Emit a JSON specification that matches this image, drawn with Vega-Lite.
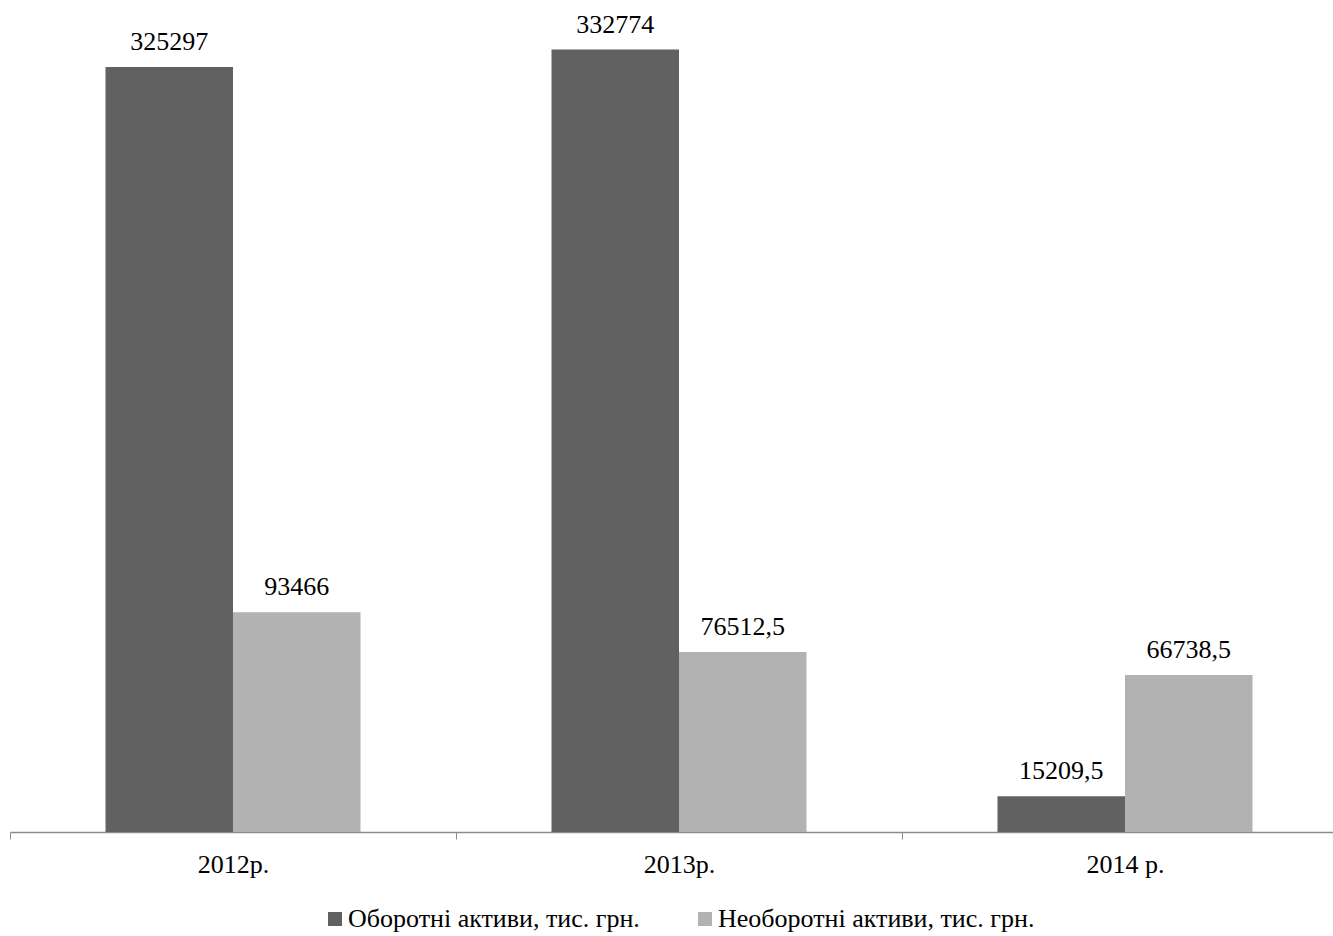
{
  "$schema": "https://vega.github.io/schema/vega-lite/v6.json",
  "width": 1323,
  "height": 823,
  "autosize": {"type": "none"},
  "padding": {"left": 10, "top": 9, "right": 0, "bottom": 104},
  "background": "white",
  "config": {
    "view": {"stroke": null},
    "font": "Times New Roman, Liberation Serif, serif"
  },
  "data": {
    "values": [
      {"year": "2012р.", "series": "Оборотні активи, тис. грн.", "value": 325297, "label": "325297"},
      {"year": "2012р.", "series": "Необоротні активи, тис. грн.", "value": 93466, "label": "93466"},
      {"year": "2013р.", "series": "Оборотні активи, тис. грн.", "value": 332774, "label": "332774"},
      {"year": "2013р.", "series": "Необоротні активи, тис. грн.", "value": 76512.5, "label": "76512,5"},
      {"year": "2014 р.", "series": "Оборотні активи, тис. грн.", "value": 15209.5, "label": "15209,5"},
      {"year": "2014 р.", "series": "Необоротні активи, тис. грн.", "value": 66738.5, "label": "66738,5"}
    ]
  },
  "encoding": {
    "x": {
      "field": "year",
      "type": "nominal",
      "sort": null,
      "scale": {"range": [0, 1338], "paddingInner": 0, "paddingOuter": 0},
      "axis": {
        "title": null,
        "labelAngle": 0,
        "labelFontSize": 26,
        "labelColor": "black",
        "labelFont": "Times New Roman, Liberation Serif, serif",
        "labelPadding": 12,
        "tickBand": "extent",
        "tickSize": 7,
        "tickColor": "#8c8c8c",
        "domainColor": "#8c8c8c",
        "domainWidth": 1.5,
        "grid": false
      }
    },
    "xOffset": {
      "field": "series",
      "type": "nominal",
      "sort": ["Оборотні активи, тис. грн.", "Необоротні активи, тис. грн."],
      "scale": {"paddingInner": 0, "paddingOuter": 0.749}
    },
    "y": {
      "field": "value",
      "type": "quantitative",
      "scale": {"domain": [0, 350000], "nice": false},
      "axis": null
    }
  },
  "layer": [
    {
      "mark": {"type": "bar"},
      "encoding": {
        "color": {
          "field": "series",
          "type": "nominal",
          "sort": ["Оборотні активи, тис. грн.", "Необоротні активи, тис. грн."],
          "scale": {"domain": ["Оборотні активи, тис. грн.", "Необоротні активи, тис. грн."], "range": ["#616161", "#b2b2b2"]},
          "legend": {
            "title": null,
            "orient": "none",
            "direction": "horizontal",
            "legendX": 312,
            "legendY": 897,
            "symbolType": "square",
            "symbolSize": 196,
            "symbolStrokeWidth": 0,
            "symbolOpacity": 1,
            "labelFontSize": 26,
            "labelFont": "Times New Roman, Liberation Serif, serif",
            "labelColor": "black",
            "labelOffset": 0,
            "columnPadding": 52,
            "labelLimit": 500
          }
        }
      }
    },
    {
      "mark": {"type": "text", "baseline": "alphabetic", "dy": -17, "fontSize": 26, "font": "Times New Roman, Liberation Serif, serif", "color": "black"},
      "encoding": {
        "text": {"field": "label", "type": "nominal"}
      }
    }
  ]
}
